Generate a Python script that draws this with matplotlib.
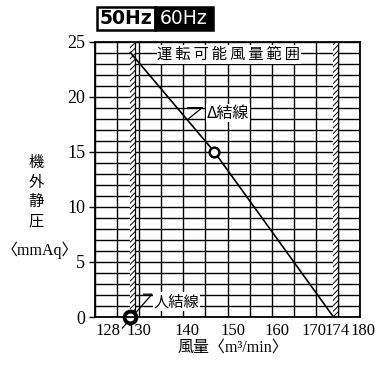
import matplotlib
matplotlib.use("Agg")
import matplotlib.pyplot as plt
import matplotlib.transforms as mtransforms
from matplotlib.patches import Rectangle

# curve (flow m3/min, static pressure mmAq)
curve_flow = [128, 147, 174]
curve_pressure = [24, 15, 0]

# operating points
delta_point = (147, 15)
star_point = (128, 0)

# operating range limits
range_limits = [128, 174]

x_ticks = [128, 130, 140, 150, 160, 170, 174, 180]
x_tick_labels = ["128", "130", "140", "150", "160", "170", "174", "180"]
x_label_shift_px = [-22, 0, 4, 5, 5, -2, 4, 3]
y_ticks = [0, 5, 10, 15, 20, 25]

CJK = ["Noto Sans CJK JP", "DejaVu Sans"]
SERIF = ["Liberation Serif", "Noto Sans CJK JP"]

plt.rcParams["hatch.linewidth"] = 0.7

fig = plt.figure(figsize=(3.75, 3.65), dpi=100)
ax = fig.add_axes([95 / 375, 48 / 365, 265 / 375, 275.5 / 365])

# grid: vertical every 5, horizontal every 1
for gx in range(120, 181, 5):
    ax.axvline(gx, color="black", lw=1.0, zorder=1)
for gy in range(0, 26):
    ax.axhline(gy, color="black", lw=1.0, zorder=1)

# hatched limit bands
for lim in range_limits:
    ax.axvspan(lim - 0.15, lim + 0.95, facecolor="white", edgecolor="black",
               hatch="/" * 6, lw=0, zorder=2)
    ax.axvline(lim + 0.95, color="black", lw=0.9, zorder=2)

ax.plot(curve_flow, curve_pressure, color="black", lw=1.2, zorder=4)
ax.plot(*delta_point, marker="o", ms=7, mfc="white", mec="black", mew=1.8,
        zorder=5, clip_on=False)
ax.plot(*star_point, marker="o", ms=8.5, mfc="white", mec="black", mew=2.8,
        zorder=5, clip_on=False)

# leaders
ax.plot([141.0, 144.3, 140.9], [19.0, 19.0, 17.9], color="black", lw=0.9, zorder=4)
ax.plot([131.0, 132.9, 126.2], [2.07, 2.07, -1.0], color="black", lw=0.9,
        zorder=4, clip_on=False)

bb = dict(facecolor="white", edgecolor="none", pad=0.5)
ax.text(150.3, 23.8, "\u2009".join("運転可能風量範囲"), family=CJK, fontsize=11,
        ha="center", va="center", bbox=bb, zorder=6)
ax.text(145.3, 18.5, "Δ結線", family=CJK, fontsize=11.5,
        ha="left", va="center", bbox=bb, zorder=6)
ax.text(133.3, 1.4, "人結線", family=CJK, fontsize=11,
        ha="left", va="center", bbox=bb, zorder=6)

ax.set_xlim(120, 180)
ax.set_ylim(0, 25)
for s in ax.spines.values():
    s.set_linewidth(1.3)
    s.set_zorder(7)

ax.set_xticks(x_ticks)
ax.set_xticklabels(x_tick_labels, family=SERIF, fontsize=12)
ax.tick_params(axis="x", length=0, pad=4)
for lab, dx in zip(ax.get_xticklabels(), x_label_shift_px):
    lab.set_transform(lab.get_transform() +
                      mtransforms.ScaledTranslation(dx / 100, 0, fig.dpi_scale_trans))

ax.set_yticks(y_ticks)
ax.set_yticklabels([str(v) for v in y_ticks], family=SERIF, fontsize=13)
ax.tick_params(axis="y", length=4, width=1.0, pad=3)

# axis titles
fig.text(36 / 375, 1 - 192 / 365, "機\n外\n静\n圧", family=CJK, fontsize=11,
         ha="center", va="center", linespacing=1.2)
fig.text(40 / 375, 1 - 250 / 365, "〈mmAq〉", family=SERIF, fontsize=11.5,
         ha="center", va="center")
fig.text(233 / 375, 1 - 348 / 365, "風量〈m³/min〉", family=SERIF, fontsize=11.5,
         ha="center", va="center")

# frequency header
fig.patches.append(Rectangle((97 / 375, 1 - 30 / 365), 58 / 375, 23 / 365,
                             transform=fig.transFigure, facecolor="white",
                             edgecolor="black", lw=1.8))
fig.patches.append(Rectangle((155 / 375, 1 - 30 / 365), 58 / 375, 23 / 365,
                             transform=fig.transFigure, facecolor="black",
                             edgecolor="black", lw=1.8))
fig.text(126 / 375, 1 - 18.5 / 365, "50Hz", fontsize=13.5, weight="bold",
         ha="center", va="center", color="black")
fig.text(184 / 375, 1 - 18.5 / 365, "60Hz", fontsize=13.5,
         ha="center", va="center", color="white")

fig.savefig("out.png", dpi=100)
